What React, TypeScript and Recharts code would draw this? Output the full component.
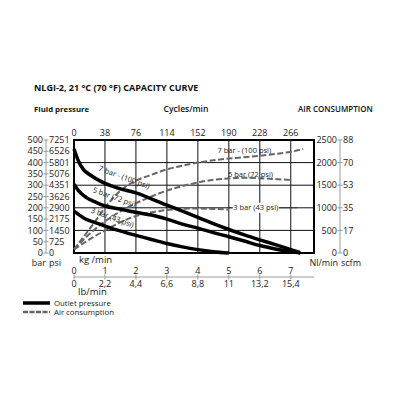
import React from 'react';
import { LineChart, Line, XAxis, YAxis, ReferenceArea, ReferenceLine, ReferenceDot } from 'recharts';

// axis ticks / labels
const kgTicks = [0, 1, 2, 3, 4, 5, 6, 7];
const cycleLabels = ['0', '38', '76', '114', '152', '190', '228', '266'];
const lbLabels = ['0', '2,2', '4,4', '6,6', '8,8', '11', '13,2', '15,4'];
const barTicks = [0, 50, 100, 150, 200, 250, 300, 350, 400, 450, 500];
const psiLabels = ['0', '725', '1450', '2175', '2900', '3626', '4351', '5076', '5801', '6526', '7251'];
const gridBar = [0, 100, 200, 300, 400, 500];
const nlTicks = [0, 500, 1000, 1500, 2000, 2500];
const scfmLabels = ['0', '17', '35', '53', '70', '88'];

// outlet pressure, kg/min -> bar
const out7Kg = [0, 0.15, 0.3, 0.55, 0.85, 1.4, 2, 2.5, 3, 3.5, 4, 4.5, 5, 5.5, 6, 6.5, 7, 7.3];
const out7Bar = [460, 405, 370, 343, 318, 288, 266, 240, 212, 185, 158, 130, 104, 80, 58, 37, 15, 2];
const out5Kg = [0, 0.15, 0.4, 0.7, 1, 1.5, 2, 2.5, 3, 3.5, 4, 4.5, 5, 5.5, 6, 6.5, 7, 7.3];
const out5Bar = [305, 275, 245, 225, 208, 194, 180, 168, 150, 128, 110, 90, 72, 53, 33, 18, 6, 0];
const out3Kg = [0, 0.3, 0.85, 1.4, 2, 2.5, 3, 3.5, 4, 4.5, 5];
const out3Bar = [185, 156, 127, 101, 78, 60, 42, 27, 15, 6, 0];

// air consumption, kg/min -> Nl/min
const air7Kg = [0, 0.65, 1, 1.5, 2, 2.5, 3, 3.5, 4, 4.5, 5, 5.5, 6, 6.5, 7, 7.4];
const air7Nl = [80, 668, 1000, 1380, 1600, 1730, 1850, 1930, 2000, 2050, 2090, 2120, 2150, 2190, 2240, 2300];
const air5Kg = [0, 0.5, 1, 1.5, 2, 2.5, 3, 3.5, 4, 4.5, 5, 5.5, 6, 6.5, 7];
const air5Nl = [80, 420, 700, 920, 1100, 1250, 1380, 1480, 1560, 1620, 1650, 1665, 1655, 1635, 1615];
const air3Kg = [0, 0.5, 1, 1.5, 2, 2.5, 3, 3.5, 4, 4.5, 5];
const air3Nl = [80, 300, 500, 680, 820, 900, 950, 975, 985, 975, 960];

const pts = (xs: number[], ys: number[]) => xs.map((x, i) => ({ x, y: ys[i] }));

const KG_MAX = 7.75;
const BAR_MAX = 500;
const NL_MAX = 2500;
const TXT = '#222';
const AXIS = '#9a9a9a';
const FS = 9;

const LeftTick = (p: any) => {
  const { x, y, payload } = p;
  return (
    <g>
      <line x1={x - 2.5} x2={x + 2.5} y1={y} y2={y} stroke={AXIS} />
      <text x={x - 3} y={y} dy="0.35em" textAnchor="end" fontSize={FS} fill={TXT}>{payload.value}</text>
      <text x={x + 3} y={y} dy="0.35em" textAnchor="start" fontSize={FS} fill={TXT}>{psiLabels[barTicks.indexOf(payload.value)]}</text>
    </g>
  );
};

const RightTick = (p: any) => {
  const { x, y, payload } = p;
  return (
    <g>
      <line x1={x - 2.5} x2={x + 2.5} y1={y} y2={y} stroke={AXIS} />
      <text x={x - 3} y={y} dy="0.35em" textAnchor="end" fontSize={FS} fill={TXT}>{payload.value}</text>
      <text x={x + 3} y={y} dy="0.35em" textAnchor="start" fontSize={FS} fill={TXT}>{scfmLabels[nlTicks.indexOf(payload.value)]}</text>
    </g>
  );
};

const BottomTick = (p: any) => {
  const { x, y, payload } = p;
  const i = kgTicks.indexOf(payload.value);
  return (
    <g>
      <line x1={x} x2={x} y1={y - 2.5} y2={y + 2.5} stroke={AXIS} />
      <text x={x} y={y - 3.5} textAnchor="middle" fontSize={FS} fill={TXT}>{payload.value}</text>
      <text x={x} y={y + 10} textAnchor="middle" fontSize={FS} fill={TXT}>{lbLabels[i]}</text>
    </g>
  );
};

const NoTick = () => <g />;

const curveLabel = (text: string, angle: number, bgWidth = 0) => (props: any) => {
  const { x, y } = props.viewBox;
  return (
    <g transform={`translate(${x},${y}) rotate(${angle})`}>
      {bgWidth > 0 && <rect x={-bgWidth / 2} y={-5} width={bgWidth} height={10} fill="#fff" />}
      <text textAnchor="middle" dy="0.35em" fontSize={7.5} fill={TXT}>{text}</text>
    </g>
  );
};

const dashed = { stroke: '#666', strokeWidth: 2, strokeDasharray: '6 2.5' };
// grid cells as outlined areas; their inner edges give the grid lines
const cell = { xAxisId: 'kg', yAxisId: 'bar', fill: 'none', stroke: '#111', strokeWidth: 1, ifOverflow: 'visible' as const };

export default function App() {
  const gridX = kgTicks.slice(1);
  const gridY = gridBar.slice(1, -1);
  return (
    <div style={{ position: 'absolute', left: 0, top: 0, width: 400, height: 400, background: '#fff', fontFamily: '"Open Sans", sans-serif' }}>
      <div style={{ position: 'absolute', left: 0, top: 0 }}>
        <LineChart width={400} height={300} margin={{ top: 118, right: 0, bottom: 3, left: 0 }}>
          <XAxis xAxisId="cyc" orientation="top" type="number" dataKey="x" domain={[0, KG_MAX]} allowDataOverflow ticks={kgTicks} interval={0}
            tickFormatter={(v: number) => cycleLabels[kgTicks.indexOf(v)]} height={22} axisLine={false} tickLine={false}
            tickSize={0} tickMargin={4} tick={{ fontSize: FS, fill: TXT }} />
          <XAxis xAxisId="kg" type="number" dataKey="x" domain={[0, KG_MAX]} ticks={kgTicks} interval={0} tick={NoTick} axisLine={false} tickLine={false} height={24} />
          <XAxis xAxisId="kgl" type="number" dataKey="x" domain={[0, KG_MAX]} allowDataOverflow ticks={kgTicks} interval={0} height={20}
            axisLine={{ stroke: AXIS }} tickLine={false} tickSize={0} tickMargin={0} tick={(p: any) => <BottomTick {...p} />} />
          <YAxis yAxisId="bar" type="number" domain={[0, BAR_MAX]} ticks={gridBar} interval={0} tick={NoTick} axisLine={false} tickLine={false} width={28} />
          <YAxis yAxisId="barl" type="number" domain={[0, BAR_MAX]} allowDataOverflow ticks={barTicks} interval={0} width={46}
            axisLine={{ stroke: AXIS }} tickLine={false} tickSize={0} tickMargin={0} tick={(p: any) => <LeftTick {...p} />} />
          <YAxis yAxisId="nl" orientation="right" type="number" domain={[0, NL_MAX]} ticks={nlTicks} interval={0} tick={NoTick} axisLine={false} tickLine={false} width={26} />
          <YAxis yAxisId="nll" orientation="right" type="number" domain={[0, NL_MAX]} allowDataOverflow ticks={nlTicks} interval={0} width={60}
            axisLine={{ stroke: AXIS }} tickLine={false} tickSize={0} tickMargin={0} tick={(p: any) => <RightTick {...p} />} />

          <ReferenceArea {...cell} x1={0} x2={gridX[0]} y1={0} y2={BAR_MAX} />
          <ReferenceArea {...cell} x1={0} x2={gridX[1]} y1={0} y2={BAR_MAX} />
          <ReferenceArea {...cell} x1={0} x2={gridX[2]} y1={0} y2={BAR_MAX} />
          <ReferenceArea {...cell} x1={0} x2={gridX[3]} y1={0} y2={BAR_MAX} />
          <ReferenceArea {...cell} x1={0} x2={gridX[4]} y1={0} y2={BAR_MAX} />
          <ReferenceArea {...cell} x1={0} x2={gridX[5]} y1={0} y2={BAR_MAX} />
          <ReferenceArea {...cell} x1={0} x2={gridX[6]} y1={0} y2={BAR_MAX} />
          <ReferenceArea {...cell} x1={0} x2={KG_MAX} y1={0} y2={gridY[0]} />
          <ReferenceArea {...cell} x1={0} x2={KG_MAX} y1={0} y2={gridY[1]} />
          <ReferenceArea {...cell} x1={0} x2={KG_MAX} y1={0} y2={gridY[2]} />
          <ReferenceArea {...cell} x1={0} x2={KG_MAX} y1={0} y2={gridY[3]} />

          <Line data={pts(air7Kg, air7Nl)} dataKey="y" xAxisId="kg" yAxisId="nl" type="monotone" {...dashed} dot={false} isAnimationActive={false} />
          <Line data={pts(air5Kg, air5Nl)} dataKey="y" xAxisId="kg" yAxisId="nl" type="monotone" {...dashed} dot={false} isAnimationActive={false} />
          <Line data={pts(air3Kg, air3Nl)} dataKey="y" xAxisId="kg" yAxisId="nl" type="monotone" {...dashed} dot={false} isAnimationActive={false} />

          <Line data={pts(out7Kg, out7Bar)} dataKey="y" xAxisId="kg" yAxisId="bar" type="monotone" stroke="#000" strokeWidth={3.5} dot={false} isAnimationActive={false} />
          <Line data={pts(out5Kg, out5Bar)} dataKey="y" xAxisId="kg" yAxisId="bar" type="monotone" stroke="#000" strokeWidth={3.5} dot={false} isAnimationActive={false} />
          <Line data={pts(out3Kg, out3Bar)} dataKey="y" xAxisId="kg" yAxisId="bar" type="monotone" stroke="#000" strokeWidth={3.5} dot={false} isAnimationActive={false} />

          <ReferenceArea xAxisId="kg" yAxisId="bar" x1={0} x2={KG_MAX} y1={0} y2={BAR_MAX} fill="none" stroke="#000" strokeWidth={2} ifOverflow="visible" />

          <ReferenceLine xAxisId="kg" yAxisId="nl" segment={[{ x: 5.03, y: 1000 }, { x: 7.2, y: 1000 }]} stroke="#333" strokeWidth={0.8} />
          <ReferenceDot xAxisId="kg" yAxisId="nl" x={5.87} y={1000} r={0} fill="none" stroke="none" label={{ content: curveLabel('3 bar (43 psi)', 0, 46) }} />
          <ReferenceDot xAxisId="kg" yAxisId="nl" x={5.5} y={2270} r={0} fill="none" stroke="none" label={{ content: curveLabel('7 bar - (100 psi)', 0) }} />
          <ReferenceDot xAxisId="kg" yAxisId="nl" x={5.7} y={1740} r={0} fill="none" stroke="none" label={{ content: curveLabel('5 bar (72 psi)', 0) }} />

          <ReferenceDot xAxisId="kg" yAxisId="bar" x={1.62} y={335} r={0} fill="none" stroke="none" label={{ content: curveLabel('7 bar - (100 psi)', 20) }} />
          <ReferenceDot xAxisId="kg" yAxisId="bar" x={1.3} y={247} r={0} fill="none" stroke="none" label={{ content: curveLabel('5 bar (72 psi)', 20) }} />
          <ReferenceDot xAxisId="kg" yAxisId="bar" x={1.24} y={157} r={0} fill="none" stroke="none" label={{ content: curveLabel('3 bar (43 psi)', 20) }} />
        </LineChart>
      </div>
      <svg width={400} height={400} style={{ position: 'absolute', left: 0, top: 0, pointerEvents: 'none' }}>
        <text x={34} y={88} dy="0.35em" fontSize={9} fontWeight={700} fill="#111">NLGI-2, 21 °C (70 °F) CAPACITY CURVE</text>
        <text x={34} y={109} dy="0.35em" fontSize={7.8} fontWeight={700} fill="#111">Fluid pressure</text>
        <text x={186} y={109} dy="0.35em" fontSize={8.5} fontWeight={600} textAnchor="middle" fill="#111">Cycles/min</text>
        <text x={298} y={109} dy="0.35em" fontSize={8} fontWeight={600} fill="#111">AIR CONSUMPTION</text>
        <text x={46} y={263} dy="0.35em" fontSize={9} textAnchor="end" fill={TXT}>bar</text>
        <text x={49} y={263} dy="0.35em" fontSize={9} fill={TXT}>psi</text>
        <text x={79} y={260} dy="0.35em" fontSize={9.5} fill={TXT}>kg /min</text>
        <text x={78} y={292} dy="0.35em" fontSize={9.5} fill={TXT}>lb/min</text>
        <text x={338} y={263} dy="0.35em" fontSize={9} textAnchor="end" fill={TXT}>Nl/min</text>
        <text x={341} y={263} dy="0.35em" fontSize={9} fill={TXT}>scfm</text>
        <line x1={23} x2={50} y1={303} y2={303} stroke="#000" strokeWidth={3.5} />
        <text x={54} y={303} dy="0.35em" fontSize={7.8} fill={TXT}>Outlet pressure</text>
        <line x1={23} x2={50} y1={312} y2={312} stroke="#666" strokeWidth={2.5} strokeDasharray="5 1.5" />
        <text x={54} y={312} dy="0.35em" fontSize={7.8} fill={TXT}>Air consumption</text>
      </svg>
    </div>
  );
}
